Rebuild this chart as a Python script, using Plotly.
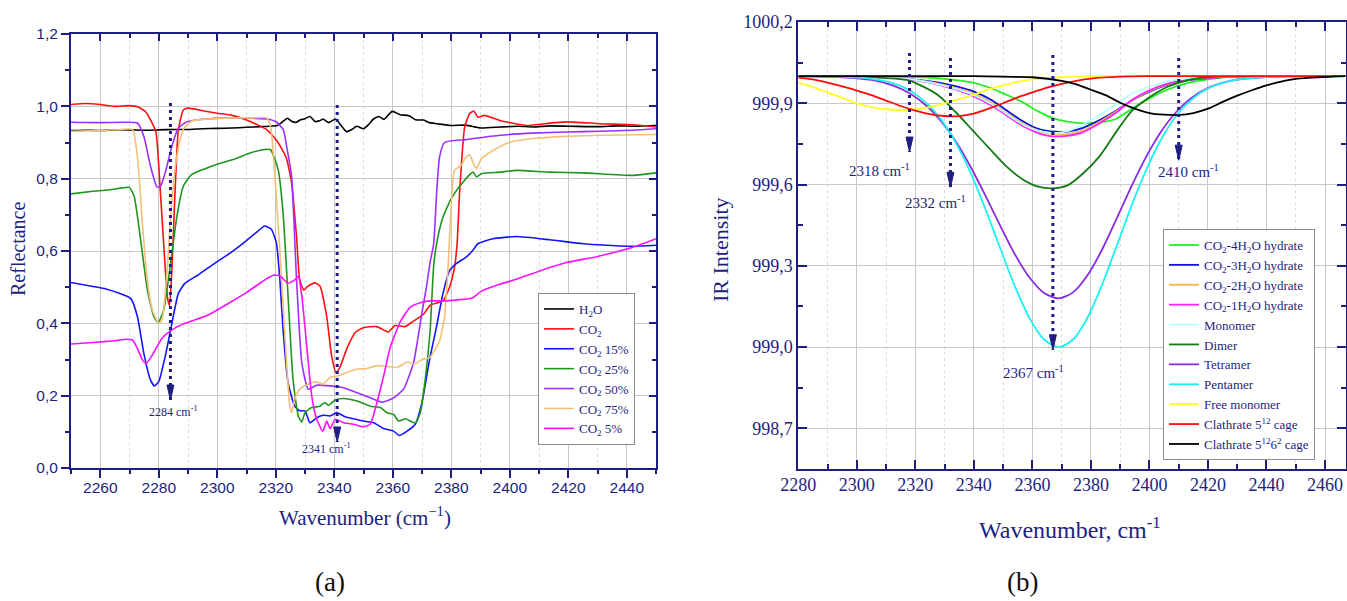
import plotly.graph_objects as go

NAVY = "#1e1e80"
SERIF = "Liberation Serif, Times New Roman, serif"
SANS = "Liberation Sans, Arial, sans-serif"

# ---------------- panel (a): reflectance spectra ----------------
h2o_x = [2250, 2255, 2260, 2265, 2270, 2275, 2280, 2285, 2290, 2295,
         2300, 2305, 2310, 2315, 2318, 2320.5, 2322, 2324, 2325.5, 2327,
         2328.3, 2330, 2331.7, 2333.4, 2335, 2336.2, 2338, 2340.5, 2342.5, 2344.2,
         2346, 2347.7, 2350, 2351.8, 2353.4, 2355.3, 2357, 2359.8, 2362.5, 2365.5,
         2367.8, 2370.6, 2372.5, 2375.2, 2379.8, 2385, 2390, 2397, 2403, 2408,
         2414, 2420, 2426, 2431, 2437, 2443, 2450]
h2o_y = [0.933, 0.934, 0.933, 0.935, 0.935, 0.934, 0.935, 0.936, 0.936, 0.938,
         0.939, 0.94, 0.942, 0.944, 0.945, 0.947, 0.955, 0.967, 0.958, 0.956,
         0.962, 0.966, 0.972, 0.958, 0.96, 0.965, 0.955, 0.965, 0.945, 0.93,
         0.936, 0.945, 0.938, 0.95, 0.965, 0.972, 0.964, 0.986, 0.977, 0.974,
         0.963, 0.962, 0.955, 0.952, 0.947, 0.948, 0.94, 0.943, 0.945, 0.943,
         0.946, 0.945, 0.944, 0.944, 0.946, 0.945, 0.947]

co2_x = [2250, 2255, 2260, 2265, 2270, 2273, 2275.5, 2277, 2279, 2280.5,
         2282, 2283, 2283.7, 2284.5, 2285.5, 2286.7, 2288.4, 2290, 2295, 2300,
         2305, 2310, 2314, 2317, 2320.4, 2323.5, 2325.4, 2327.1, 2328.2, 2329.6,
         2331, 2333.4, 2335.1, 2337.4, 2339.1, 2340.6, 2341.9, 2344.2, 2347.1, 2349.9,
         2354.5, 2357.3, 2358.5, 2360.8, 2364.2, 2367.1, 2370.5, 2372.8, 2377.1, 2379.4,
         2381.1, 2382, 2382.9, 2384.6, 2386.3, 2387.7, 2389.1, 2391.4, 2396.6, 2405.7,
         2412, 2419.4, 2430.9, 2442.3, 2450]
co2_y = [1.005, 1.008, 1.005, 1.0, 1.002, 0.998, 0.985, 0.965, 0.93, 0.77,
         0.58, 0.47, 0.45, 0.55, 0.75, 0.935, 0.99, 0.995, 0.988, 0.981,
         0.975, 0.962, 0.948, 0.935, 0.905, 0.86, 0.79, 0.64, 0.52, 0.492,
         0.503, 0.512, 0.503, 0.42, 0.31, 0.264, 0.278, 0.328, 0.374, 0.388,
         0.391, 0.38, 0.376, 0.394, 0.391, 0.406, 0.425, 0.45, 0.462, 0.5,
         0.554, 0.62, 0.768, 0.943, 0.98, 0.987, 0.97, 0.975, 0.961, 0.947,
         0.952, 0.957, 0.952, 0.949, 0.943]

co2_15_x = [2250, 2257.5, 2262, 2266.5, 2270.4, 2272.7, 2274.9, 2277.2, 2278.5, 2280,
            2282.2, 2284.5, 2286.7, 2289, 2293.5, 2299.1, 2304.5, 2309.9, 2313.9, 2316.2,
            2318.5, 2320.2, 2321.4, 2322.5, 2324.2, 2326.5, 2328.2, 2330, 2331.7, 2334,
            2336.2, 2338.6, 2340.8, 2343.7, 2346.6, 2350, 2353.5, 2356.9, 2360.3, 2362.2,
            2364.9, 2367.7, 2370, 2372.6, 2374.9, 2377.1, 2379.4, 2381.7, 2385.1, 2387.4,
            2389.1, 2394.3, 2402.3, 2413.7, 2425.1, 2433.1, 2442.3, 2450]
co2_15_y = [0.513, 0.502, 0.495, 0.483, 0.469, 0.419, 0.317, 0.243, 0.227, 0.239,
            0.308, 0.4, 0.483, 0.511, 0.534, 0.566, 0.595, 0.628, 0.655, 0.669,
            0.66, 0.623, 0.522, 0.383, 0.236, 0.171, 0.158, 0.158, 0.125, 0.139,
            0.146, 0.144, 0.153, 0.142, 0.136, 0.13, 0.125, 0.109, 0.102, 0.09,
            0.102, 0.121, 0.181, 0.3, 0.388, 0.48, 0.545, 0.565, 0.583, 0.602,
            0.62, 0.634, 0.64, 0.631, 0.62, 0.616, 0.613, 0.616]

co2_25_x = [2250, 2257.5, 2264, 2269.9, 2271.6, 2273.8, 2276.1, 2278.3, 2279.8, 2281.7,
            2283.9, 2286.2, 2288.4, 2291.2, 2295.7, 2300, 2305.5, 2311.2, 2315.7, 2318.2,
            2320.8, 2322.5, 2324.2, 2325.9, 2327.7, 2328.9, 2330, 2332.3, 2335.1, 2336.9,
            2338, 2340.3, 2343.2, 2347.8, 2352.3, 2355.8, 2358, 2360.3, 2362, 2364.3,
            2367.7, 2369.4, 2371.1, 2372.8, 2374, 2375, 2377, 2380, 2384, 2387.4,
            2388.7, 2390.5, 2396.6, 2402.3, 2413.7, 2425.1, 2442.3, 2450]
co2_25_y = [0.758, 0.765, 0.77, 0.776, 0.751, 0.631, 0.493, 0.419, 0.402, 0.437,
            0.557, 0.696, 0.779, 0.811, 0.827, 0.84, 0.853, 0.871, 0.88, 0.88,
            0.826, 0.706, 0.476, 0.245, 0.144, 0.127, 0.153, 0.167, 0.171, 0.181,
            0.173, 0.188, 0.192, 0.185, 0.171, 0.167, 0.153, 0.148, 0.13, 0.136,
            0.124, 0.153, 0.245, 0.383, 0.56, 0.62, 0.69, 0.745, 0.79, 0.818,
            0.805, 0.814, 0.818, 0.823, 0.818, 0.816, 0.809, 0.816]

co2_50_x = [2250, 2260, 2268, 2272.7, 2274.9, 2277.2, 2279.4, 2280.6, 2282.2, 2284.5,
            2286.7, 2289.6, 2293.5, 2296.4, 2305.5, 2316.9, 2320, 2322.6, 2323.7, 2325.4,
            2327.1, 2328.9, 2331.1, 2334, 2338.6, 2343.2, 2347.8, 2352.3, 2356.3, 2360.3,
            2363.7, 2367.1, 2370, 2371.5, 2372.8, 2374, 2375, 2376, 2377.7, 2385.1,
            2396.6, 2408, 2419.4, 2430.9, 2442.3, 2450]
co2_50_y = [0.956, 0.955, 0.956, 0.954, 0.917, 0.834, 0.777, 0.779, 0.816, 0.89,
            0.94, 0.957, 0.963, 0.965, 0.968, 0.965, 0.958, 0.935, 0.89, 0.807,
            0.522, 0.291, 0.218, 0.229, 0.227, 0.222, 0.208, 0.194, 0.182, 0.194,
            0.218, 0.291, 0.43, 0.5, 0.57, 0.62, 0.76, 0.86, 0.9, 0.908,
            0.92, 0.926, 0.929, 0.931, 0.934, 0.938]

co2_75_x = [2250, 2260, 2267, 2271, 2272.7, 2274.4, 2276.1, 2277.8, 2280, 2281.1,
            2282.8, 2284.5, 2286.2, 2288.4, 2291.2, 2296.9, 2305, 2312, 2316.9, 2318.3,
            2320.2, 2322, 2323.7, 2324.8, 2325.4, 2326.5, 2328.2, 2331.7, 2334, 2336.2,
            2338.6, 2341.4, 2344.3, 2347.8, 2351.1, 2354.6, 2358, 2361.5, 2365, 2367.4,
            2370, 2372.6, 2376, 2377.7, 2378.9, 2379.5, 2380, 2381.1, 2383.4, 2385.1,
            2386.3, 2387.4, 2388.6, 2390.3, 2394.3, 2400, 2408, 2419.4, 2430.9, 2450]
co2_75_y = [0.931, 0.933, 0.936, 0.936, 0.862, 0.677, 0.52, 0.437, 0.4, 0.409,
            0.539, 0.742, 0.862, 0.936, 0.959, 0.965, 0.968, 0.968, 0.968, 0.94,
            0.752, 0.522, 0.291, 0.171, 0.153, 0.19, 0.218, 0.234, 0.238, 0.232,
            0.25, 0.255, 0.264, 0.273, 0.275, 0.283, 0.281, 0.278, 0.293, 0.287,
            0.3, 0.305, 0.351, 0.416, 0.554, 0.65, 0.722, 0.823, 0.837, 0.86,
            0.866, 0.846, 0.828, 0.855, 0.878, 0.901, 0.911, 0.917, 0.92, 0.922]

co2_5_x = [2250, 2257.5, 2265, 2268.8, 2271, 2272.7, 2274.4, 2275.7, 2277.8, 2281.1,
           2284.5, 2289, 2296.9, 2304.2, 2309.9, 2315.7, 2319.1, 2321.4, 2324.2, 2326.5,
           2327.7, 2328.9, 2330.6, 2332.3, 2334, 2336.1, 2337.4, 2338.6, 2340.3, 2343.2,
           2346.6, 2350, 2352.3, 2354.6, 2356.9, 2359.2, 2362.6, 2366, 2369.4, 2372.8,
           2378.3, 2387.4, 2390.3, 2396.6, 2402.3, 2410.3, 2419.4, 2430, 2442.3, 2450]
co2_5_y = [0.343, 0.347, 0.352, 0.356, 0.354, 0.331, 0.299, 0.289, 0.312, 0.359,
           0.382, 0.4, 0.423, 0.457, 0.485, 0.517, 0.533, 0.531, 0.511, 0.52,
           0.531, 0.476, 0.337, 0.199, 0.135, 0.102, 0.13, 0.109, 0.135, 0.125,
           0.121, 0.114, 0.121, 0.181, 0.255, 0.335, 0.405, 0.445, 0.457, 0.462,
           0.462, 0.471, 0.489, 0.508, 0.522, 0.545, 0.568, 0.585, 0.611, 0.634]

left_names = ["H<sub>2</sub>O", "CO<sub>2</sub>", "CO<sub>2</sub> 15%", "CO<sub>2</sub> 25%",
              "CO<sub>2</sub> 50%", "CO<sub>2</sub> 75%", "CO<sub>2</sub> 5%"]
left_colors = ["#000000", "#ff1010", "#1414ff", "#1e961e", "#9b30ff", "#f2c078", "#ff10ff"]
left_x = [h2o_x, co2_x, co2_15_x, co2_25_x, co2_50_x, co2_75_x, co2_5_x]
left_y = [h2o_y, co2_y, co2_15_y, co2_25_y, co2_50_y, co2_75_y, co2_5_y]

# marked band positions in panel (a)
left_marks = [2284, 2341]
left_ticks = [0.0, 0.2, 0.4, 0.6, 0.8, 1.0, 1.2]
left_ticktext = ["0,0", "0,2", "0,4", "0,6", "0,8", "1,0", "1,2"]

# ---------------- panel (b): computed IR bands ----------------
h4_x = [2280, 2300, 2320, 2330, 2340, 2346, 2351, 2357, 2362, 2367, 2372, 2378,
        2383, 2388, 2394, 2400, 2406, 2413, 2420, 2429, 2440, 2450, 2467]
h4_y = [1000.0, 999.999, 999.997, 999.99, 999.975, 999.955, 999.932, 999.902, 999.87,
        999.845, 999.832, 999.826, 999.829, 999.84, 999.88, 999.918, 999.95, 999.974,
        999.988, 999.998, 1000.0, 1000.0, 1000.0]

h3_x = [2280, 2300, 2310, 2317, 2323, 2328, 2334, 2340, 2346, 2351, 2357, 2362, 2368,
        2372, 2377, 2383, 2389, 2394, 2400, 2406, 2412, 2420, 2429, 2440, 2450, 2467]
h3_y = [1000.0, 999.999, 999.995, 999.99, 999.984, 999.976, 999.962, 999.943, 999.912,
        999.875, 999.832, 999.806, 999.795, 999.795, 999.808, 999.838, 999.875, 999.91,
        999.943, 999.968, 999.983, 999.993, 999.998, 1000.0, 1000.0, 1000.0]

h2_x = [2280, 2300, 2310, 2317, 2323, 2328, 2334, 2340, 2346, 2351, 2357, 2362, 2367,
        2372, 2377, 2383, 2389, 2394, 2400, 2406, 2412, 2420, 2430, 2440, 2450, 2467]
h2_y = [1000.0, 999.999, 999.995, 999.99, 999.982, 999.972, 999.956, 999.934, 999.902,
        999.866, 999.823, 999.797, 999.786, 999.786, 999.799, 999.832, 999.872, 999.91,
        999.946, 999.97, 999.985, 999.994, 999.999, 1000.0, 1000.0, 1000.0]

h1_x = [2280, 2300, 2310, 2317, 2323, 2328, 2334, 2340, 2346, 2351, 2357, 2362, 2366,
        2371, 2377, 2383, 2389, 2394, 2400, 2406, 2413, 2422, 2435, 2450, 2467]
h1_y = [1000.0, 999.999, 999.995, 999.989, 999.98, 999.968, 999.95, 999.925, 999.892,
        999.857, 999.814, 999.79, 999.779, 999.779, 999.792, 999.826, 999.869, 999.912,
        999.948, 999.972, 999.986, 999.995, 1000.0, 1000.0, 1000.0]

mono_x = [2280, 2300, 2310, 2317, 2323, 2328, 2334, 2340, 2346, 2351, 2357, 2362, 2367,
          2372, 2377, 2383, 2389, 2394, 2400, 2406, 2412, 2420, 2430, 2450, 2467]
mono_y = [1000.0, 999.999, 999.995, 999.99, 999.981, 999.97, 999.953, 999.93, 999.897,
          999.862, 999.82, 999.798, 999.79, 999.797, 999.82, 999.857, 999.9, 999.935,
          999.962, 999.98, 999.991, 999.997, 1000.0, 1000.0, 1000.0]

dimer_x = [2280, 2300, 2310, 2317, 2322, 2328, 2334, 2340, 2346, 2351, 2357, 2362, 2367,
           2372, 2377, 2383, 2389, 2394, 2399, 2406, 2413, 2420, 2430, 2450, 2467]
dimer_y = [1000.0, 999.998, 999.993, 999.986, 999.965, 999.928, 999.865, 999.795, 999.725,
           999.668, 999.617, 999.592, 999.586, 999.597, 999.638, 999.705, 999.8, 999.872,
           999.915, 999.96, 999.985, 999.996, 1000.0, 1000.0, 1000.0]

big_x = [2280, 2295, 2305, 2312, 2318, 2324, 2329, 2334, 2339, 2344, 2349, 2354, 2359, 2364,
         2369, 2374, 2379, 2384, 2389, 2394, 2399, 2404, 2409, 2414, 2420, 2428, 2440, 2467]
tetramer_y = [1000.0, 999.996, 999.986, 999.967, 999.937, 999.889, 999.831, 999.756, 999.663,
              999.558, 999.448, 999.343, 999.257, 999.2, 999.18, 999.203, 999.268, 999.364,
              999.479, 999.597, 999.705, 999.796, 999.866, 999.917, 999.957, 999.984, 999.997,
              1000.0]
pentamer_y = [1000.0, 999.998, 999.99, 999.975, 999.948, 999.899, 999.837, 999.751, 999.64,
              999.508, 999.365, 999.225, 999.107, 999.028, 999.0, 999.029, 999.112, 999.235,
              999.379, 999.525, 999.657, 999.767, 999.851, 999.91, 999.955, 999.984, 999.997,
              1000.0]

free_x = [2280, 2285, 2290, 2295, 2300, 2305, 2310, 2315, 2320, 2325, 2330, 2335, 2340,
          2345, 2350, 2355, 2360, 2370, 2380, 2400, 2420, 2440, 2467]
free_y = [999.975, 999.96, 999.94, 999.92, 999.9, 999.886, 999.878, 999.875, 999.878,
          999.886, 999.9, 999.915, 999.932, 999.951, 999.966, 999.979, 999.988, 999.996,
          1000.0, 1000.0, 1000.0, 1000.0, 1000.0]

cage512_x = [2280, 2285, 2290, 2295, 2300, 2305, 2310, 2315, 2320, 2325, 2330, 2334, 2340,
             2345, 2350, 2355, 2360, 2365, 2370, 2375, 2380, 2390, 2400, 2420, 2440, 2467]
cage512_y = [999.995, 999.988, 999.976, 999.962, 999.947, 999.93, 999.91, 999.89, 999.873,
             999.86, 999.853, 999.852, 999.862, 999.88, 999.9, 999.922, 999.94, 999.958,
             999.972, 999.983, 999.991, 999.998, 1000.0, 1000.0, 1000.0, 1000.0]

cage51262_x = [2280, 2300, 2320, 2340, 2350, 2360, 2370, 2375, 2380, 2385, 2390, 2395, 2400,
               2405, 2410, 2415, 2420, 2425, 2430, 2435, 2440, 2445, 2450, 2460, 2467]
cage51262_y = [1000.0, 1000.0, 1000.0, 1000.0, 999.998, 999.996, 999.983, 999.97, 999.95,
               999.93, 999.902, 999.88, 999.864, 999.858, 999.857, 999.864, 999.88, 999.905,
               999.928, 999.948, 999.966, 999.98, 999.99, 999.997, 1000.0]

right_names = ["CO<sub>2</sub>-4H<sub>2</sub>O hydrate", "CO<sub>2</sub>-3H<sub>2</sub>O hydrate",
               "CO<sub>2</sub>-2H<sub>2</sub>O hydrate", "CO<sub>2</sub>-1H<sub>2</sub>O hydrate",
               "Monomer", "Dimer", "Tetramer", "Pentamer", "Free monomer",
               "Clathrate 5<sup>12</sup> cage", "Clathrate 5<sup>12</sup>6<sup>2</sup> cage"]
right_colors = ["#22ee22", "#1010dd", "#f5b450", "#ff22ff", "#b8ffff", "#147a14",
                "#8a2be2", "#1ef0f0", "#ffff22", "#ff0a0a", "#000000"]
right_x = [h4_x, h3_x, h2_x, h1_x, mono_x, dimer_x, big_x, big_x, free_x, cage512_x, cage51262_x]
right_y = [h4_y, h3_y, h2_y, h1_y, mono_y, dimer_y, tetramer_y, pentamer_y, free_y,
           cage512_y, cage51262_y]

# marked band positions in panel (b): (wavenumber, arrow top, arrow tip)
right_marks = [(2318, 1000.086, 999.72), (2332, 1000.067, 999.59),
               (2367, 1000.078, 998.99), (2410, 1000.067, 999.69)]
right_ticks = [998.7, 999.0, 999.3, 999.6, 999.9, 1000.2]
right_ticktext = ["998,7", "999,0", "999,3", "999,6", "999,9", "1000,2"]

fig = go.Figure()

for name, xs, ys, color in zip(left_names, left_x, left_y, left_colors):
    fig.add_trace(go.Scatter(
        x=xs, y=ys, name=name, mode="lines", xaxis="x", yaxis="y",
        legend="legend", legendgroup=name,
        line=dict(color=color, width=1.6, shape="spline", smoothing=0.5)))

for name, xs, ys, color in zip(right_names, right_x, right_y, right_colors):
    fig.add_trace(go.Scatter(
        x=xs, y=ys, name=name, mode="lines", xaxis="x2", yaxis="y2",
        legend="legend2", legendgroup=name,
        line=dict(color=color, width=1.8, shape="spline", smoothing=0.8)))

# empty carrier traces so the mirrored frame axes of panel (a) are drawn
fig.add_trace(go.Scatter(x=[], y=[], xaxis="x3", yaxis="y3", showlegend=False,
                         hoverinfo="skip"))

W, H = 1347, 601
L_DOM_X = [71 / W, 656 / W]
L_DOM_Y = [(H - 468) / H, (H - 34) / H]
R_DOM_X = [798.3 / W, 1345.5 / W]
R_DOM_Y = [(H - 469) / H, (H - 22) / H]

grid_major = "#c8c8c8"
grid_minor = "#dcdcdc"

axis_common = dict(showline=True, linecolor=NAVY, linewidth=2, zeroline=False,
                   tickcolor=NAVY, tickwidth=1.5, automargin=False)

fig.update_layout(
    width=W, height=H,
    margin=dict(l=0, r=0, t=0, b=0, autoexpand=False),
    paper_bgcolor="white", plot_bgcolor="white",
    showlegend=True,
    xaxis=dict(domain=L_DOM_X, anchor="y", range=[2250, 2450], dtick=20, tick0=2260,
               ticks="outside", ticklen=8, showgrid=True, gridcolor=grid_major, gridwidth=1,
               tickfont=dict(family=SANS, size=15.5, color=NAVY), ticklabelstandoff=-4,
               minor=dict(dtick=10, ticks="outside", ticklen=4, tickcolor=NAVY,
                          showgrid=True, gridcolor=grid_minor, griddash="dot"),
               **axis_common),
    yaxis=dict(domain=L_DOM_Y, anchor="x", range=[0, 1.2], tickvals=left_ticks,
               ticktext=left_ticktext, ticks="outside", ticklen=8, showgrid=True,
               gridcolor=grid_major, gridwidth=1,
               tickfont=dict(family=SANS, size=15.5, color=NAVY),
               minor=dict(dtick=0.1, ticks="outside", ticklen=4, tickcolor=NAVY,
                          showgrid=False),
               **axis_common),
    xaxis3=dict(overlaying="x", anchor="y", side="top", range=[2250, 2450], dtick=20,
                tick0=2260, ticks="inside", ticklen=7, showticklabels=False, showgrid=False,
                minor=dict(dtick=10, ticks="inside", ticklen=4, tickcolor=NAVY),
                **axis_common),
    yaxis3=dict(overlaying="y", anchor="x", side="right", range=[0, 1.2], dtick=0.2,
                ticks="inside", ticklen=7, showticklabels=False, showgrid=False,
                minor=dict(dtick=0.1, ticks="inside", ticklen=4, tickcolor=NAVY),
                **axis_common),
    xaxis2=dict(domain=R_DOM_X, anchor="y2", range=[2280, 2467], dtick=20, tick0=2280,
                ticks="inside", ticklen=9, mirror="allticks", showgrid=True,
                gridcolor=grid_major, gridwidth=1,
                tickfont=dict(family=SERIF, size=18, color=NAVY), ticklabelstandoff=-2,
                minor=dict(dtick=10, ticks="inside", ticklen=5, tickcolor=NAVY,
                           showgrid=True, gridcolor=grid_minor, griddash="dot"),
                **axis_common),
    yaxis2=dict(domain=R_DOM_Y, anchor="x2", range=[998.55, 1000.2], tickvals=right_ticks,
                ticktext=right_ticktext, ticks="inside", ticklen=9, mirror="allticks",
                showgrid=True, gridcolor=grid_major, gridwidth=1,
                tickfont=dict(family=SERIF, size=18, color=NAVY),
                minor=dict(tickvals=[998.55, 998.85, 999.15, 999.45, 999.75, 1000.05],
                           ticks="inside", ticklen=5, tickcolor=NAVY, showgrid=False),
                **axis_common),
    legend=dict(x=538 / W, y=1 - 293 / H, xanchor="left", yanchor="top",
                bgcolor="white", bordercolor="#8c8c8c", borderwidth=1,
                font=dict(family=SERIF, size=13, color=NAVY), tracegroupgap=0,
                itemwidth=30),
    legend2=dict(x=1163 / W, y=1 - 229 / H, xanchor="left", yanchor="top",
                 bgcolor="white", bordercolor="#8c8c8c", borderwidth=1,
                 font=dict(family=SERIF, size=13, color=NAVY), tracegroupgap=0,
                 itemwidth=30),
)

DOTS = "3px,4px"
shapes = []
annotations = []


def add_marker(xref, yref, x, top, tip, head_len=15, head_half=3.5):
    """Dotted drop line with a filled arrowhead whose tip sits at (x, tip)."""
    shapes.append(dict(type="line", xref=xref, yref=yref, x0=x, x1=x, y0=top, y1=tip,
                       line=dict(color=NAVY, width=3, dash=DOTS), layer="above"))
    shapes.append(dict(type="path", xref=xref, yref=yref, xsizemode="pixel",
                       ysizemode="pixel", xanchor=x, yanchor=tip,
                       path=f"M {-head_half} {head_len} L {head_half} {head_len} L 0 0 Z",
                       fillcolor=NAVY, line=dict(color=NAVY, width=1), layer="above"))


def label(x, y, text, size, xref="paper", yref="paper", angle=0, color=NAVY):
    annotations.append(dict(x=x, y=y, xref=xref, yref=yref, showarrow=False,
                            xanchor="center", yanchor="middle", text=text,
                            textangle=angle,
                            font=dict(family=SERIF, size=size, color=color)))


# panel (a) markers
add_marker("x", "y", left_marks[0], 1.009, 0.188)
add_marker("x", "y", left_marks[1], 1.004, 0.072)
label(2284.9, 0.155, "2284 cm<sup>-1</sup>", 12, "x", "y")
label(2337.5, 0.055, "2341 cm<sup>-1</sup>", 12, "x", "y")

# panel (b) markers
for wn, top, tip in right_marks:
    add_marker("x2", "y2", wn, top, tip)
for tx, ty, txt in [(2307.9, 999.654, "2318"), (2327.0, 999.536, "2332"),
                    (2360.5, 998.908, "2367"), (2413.5, 999.65, "2410")]:
    label(tx, ty, f"{txt} cm<sup>-1</sup>", 15, "x2", "y2")

# axis titles and panel captions
label(18 / W, 1 - 249 / H, "Reflectance", 20, angle=-90)
label(365 / W, 1 - 516 / H, "Wavenumber (cm<sup>\u22121</sup>)", 21)
label(720 / W, 1 - 250 / H, "IR Intensity", 22, angle=-90)
label(1070 / W, 1 - 528 / H, "Wavenumber, cm<sup>-1</sup>", 24)
label(330 / W, 1 - 582 / H, "(a)", 27, color="#111111")
label(1022 / W, 1 - 582 / H, "(b)", 27, color="#111111")

fig.update_layout(shapes=shapes, annotations=annotations)

fig.write_html("out.html")
